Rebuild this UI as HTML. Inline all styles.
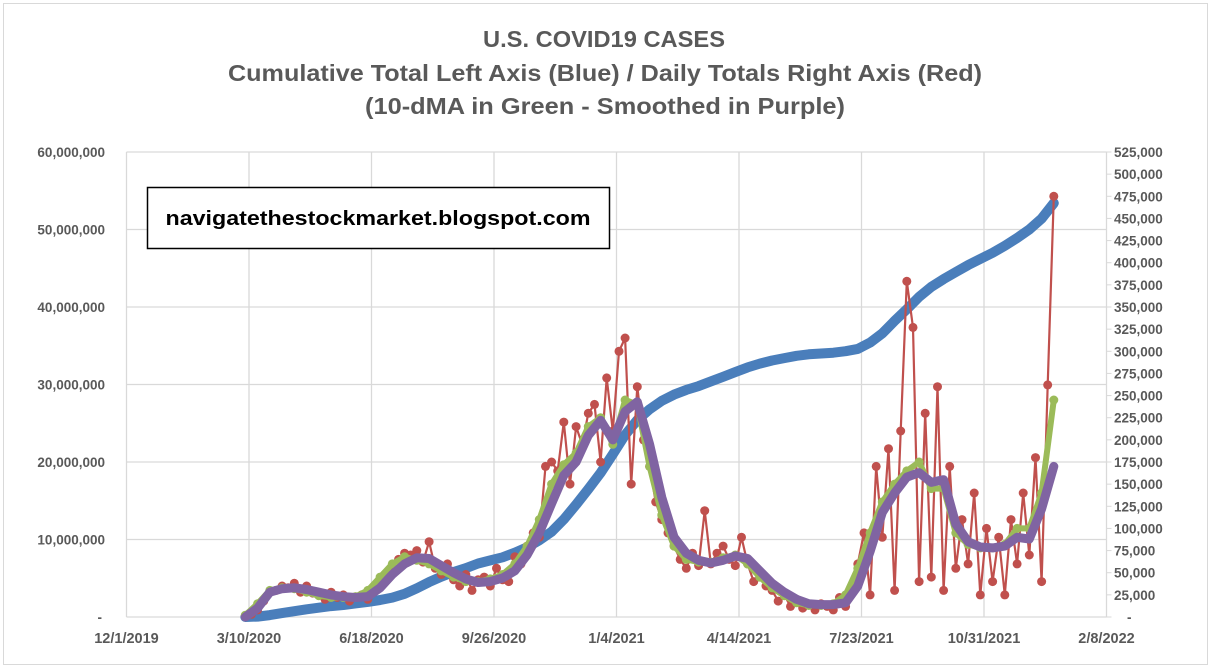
<!DOCTYPE html>
<html><head><meta charset="utf-8"><style>
html,body{margin:0;padding:0;background:#fff;}
svg{display:block;font-family:"Liberation Sans",sans-serif;}
</style></head><body>
<svg id="chart" width="1211" height="670" viewBox="0 0 1211 670" xmlns="http://www.w3.org/2000/svg">
<rect x="3.5" y="3.5" width="1204" height="661" fill="#fff" stroke="#d9d9d9"/>
<g fill="#595959" font-weight="bold" font-size="23" text-anchor="middle">
<text x="604" y="47" textLength="242" lengthAdjust="spacingAndGlyphs">U.S. COVID19 CASES</text>
<text x="605" y="81" textLength="754" lengthAdjust="spacingAndGlyphs">Cumulative Total Left Axis (Blue) / Daily Totals Right Axis (Red)</text>
<text x="605" y="114" textLength="480" lengthAdjust="spacingAndGlyphs">(10-dMA in Green - Smoothed in Purple)</text>
</g>
<g id="grid"></g>
<g id="axes"></g>
<g id="series"></g>
<g>
<rect x="147.5" y="187.5" width="462" height="61" fill="#fff" stroke="#000" stroke-width="1.5"/>
<text x="378" y="225" text-anchor="middle" font-size="20" font-weight="bold" fill="#000" textLength="425" lengthAdjust="spacingAndGlyphs">navigatethestockmarket.blogspot.com</text>
</g>
</svg>
<script>
// ---- data ----
const xTickDays = [0,100,200,300,400,500,600,700,800];
const xTickLabels = ["12/1/2019","3/10/2020","6/18/2020","9/26/2020","1/4/2021","4/14/2021","7/23/2021","10/31/2021","2/8/2022"];
const leftTicks = [0,10,20,30,40,50,60]; // millions
const leftTickLabels = ["-","10,000,000","20,000,000","30,000,000","40,000,000","50,000,000","60,000,000"];
const rightTicks = [0,25,50,75,100,125,150,175,200,225,250,275,300,325,350,375,400,425,450,475,500,525]; // thousands
// daily series: day index (days since 12/1/2019) start & step
const dailyStart = 97, dailyStep = 5;
const dailyCases = [ // thousands
1,3,8,18,28,30,35,33,38,28,
35,27,25,20,28,22,25,18,22,25,
20,30,38,45,55,65,72,70,75,62,
85,55,48,60,42,35,48,30,42,45,
35,55,42,40,68,60,80,95,90,170,
175,165,220,150,215,195,230,240,175,270,
210,300,315,150,260,200,170,130,110,95,
80,65,55,72,58,120,60,72,80,65,
58,90,60,40,45,35,30,18,25,12,
20,10,14,8,15,12,8,22,12,30,
60,95,25,170,90,190,30,210,379,327,
40,230,45,260,30,170,55,110,60,140,
25,100,40,90,25,110,60,140,70,180,
40,262,475];
const sampleStart = 97, sampleStep = 10;
const cumulative = [ // millions
0,0.05,0.25,0.5,0.75,1.0,1.2,1.4,1.55,1.75,
1.95,2.2,2.5,3.0,3.7,4.5,5.2,5.8,6.3,6.9,
7.3,7.7,8.3,9.0,9.9,11.0,12.6,14.5,16.5,18.6,
21.0,23.5,25.4,26.8,27.9,28.7,29.3,29.8,30.4,31.0,
31.6,32.2,32.7,33.1,33.4,33.7,33.9,34.0,34.1,34.3,
34.6,35.4,36.6,38.2,39.7,41.3,42.6,43.6,44.5,45.4,
46.2,47.0,47.9,48.9,50.0,51.4,53.4];
const movingAvg10 = [ // thousands
2,15,30,33,32,28,24,22,22,23,
30,45,60,68,64,60,52,45,40,40,
43,48,60,80,110,150,172,185,215,225,
195,245,240,170,115,80,65,62,62,67,
70,60,45,33,24,16,13,13,15,25,
55,95,130,150,165,175,145,145,95,82,
78,78,82,100,100,140,245];
const smoothed = [ // thousands
0,10,28,32,33,31,28,25,23,22,
23,33,48,60,67,66,58,50,43,39,
40,44,52,70,95,128,160,175,205,222,
200,232,243,195,135,90,72,64,61,64,
69,66,52,38,28,20,15,14,14,16,
35,74,118,140,158,163,152,155,105,85,
79,78,80,90,88,122,170];

// ---- scales ----
const X0=126.5, PX_DAY=1.225, Y0=617, TOP=152;
function xs(d){return X0+d*PX_DAY;}
function yL(m){return Y0-m*(Y0-TOP)/60;}
function yR(k){return Y0-k*(Y0-TOP)/525;}
const NS="http://www.w3.org/2000/svg";
function mk(tag,parent){const e=document.createElementNS(NS,tag);parent.appendChild(e);return e;}
const grid=document.getElementById('grid'), axes=document.getElementById('axes'), series=document.getElementById('series');
const XR=xs(800);

leftTicks.forEach((v,i)=>{
  const l=mk('line',grid);
  
  
  l.setAttribute('x1',X0);l.setAttribute('x2',XR);l.setAttribute('y1',yL(v));l.setAttribute('y2',yL(v));
  l.setAttribute('stroke','#d9d9d9');l.setAttribute('stroke-width','1.3');
  const t=mk('text',axes);
  
  
  t.setAttribute('x',i===0?102:105);t.setAttribute('y',yL(v)+5);t.setAttribute('text-anchor','end');
  t.setAttribute('font-size','13.5');t.setAttribute('font-weight','bold');t.setAttribute('fill','#595959');
  t.textContent=leftTickLabels[i];
});
xTickDays.forEach((d,i)=>{
  const l=mk('line',grid);
  
  
  l.setAttribute('x1',xs(d));l.setAttribute('x2',xs(d));l.setAttribute('y1',TOP);l.setAttribute('y2',Y0);
  l.setAttribute('stroke','#d9d9d9');l.setAttribute('stroke-width','1.3');
  const t=mk('text',axes);
  
  
  t.setAttribute('x',xs(d));t.setAttribute('y',643);t.setAttribute('text-anchor','middle');
  t.setAttribute('font-size','14.5');t.setAttribute('font-weight','bold');t.setAttribute('fill','#595959');
  t.textContent=xTickLabels[i];
});
rightTicks.forEach(v=>{
  const l=mk('line',axes);
  
  
  l.setAttribute('x1',XR);l.setAttribute('x2',XR+5);l.setAttribute('y1',yR(v));l.setAttribute('y2',yR(v));
  l.setAttribute('stroke','#d9d9d9');
  const t=mk('text',axes);
  
  
  t.setAttribute('x',v===0?1127:1114);t.setAttribute('y',yR(v)+5);
  t.setAttribute('font-size','13.5');t.setAttribute('font-weight','bold');t.setAttribute('fill','#595959');
  t.textContent=v===0?'-':(v+',000');
});
const ax=mk('line',axes);


ax.setAttribute('x1',XR);ax.setAttribute('x2',XR);ax.setAttribute('y1',TOP);ax.setAttribute('y2',Y0);ax.setAttribute('stroke','#d9d9d9');

function drawLine(vals,start,step,yf,color,w,name){
  const p=mk('polyline',series);
  
  
  p.setAttribute('points',vals.map((v,i)=>xs(start+i*step).toFixed(1)+','+yf(v).toFixed(1)).join(' '));
  p.setAttribute('fill','none');p.setAttribute('stroke',color);p.setAttribute('stroke-width',w);
  p.setAttribute('stroke-linejoin','round');p.setAttribute('stroke-linecap','round');
}
function drawDots(vals,start,step,yf,color,r,name){
  vals.forEach((v,i)=>{
    const c=mk('circle',series);
    
    
    c.setAttribute('cx',xs(start+i*step).toFixed(1));c.setAttribute('cy',yf(v).toFixed(1));
    c.setAttribute('r',r);c.setAttribute('fill',color);
  });
}
drawLine(cumulative,sampleStart,sampleStep,yL,'#4a7ebb',10,'cumulative-line');
drawLine(dailyCases,dailyStart,dailyStep,yR,'#c0504d',2.2,'daily-line');
drawDots(dailyCases,dailyStart,dailyStep,yR,'#c0504d',4.5,'daily-point');
drawLine(movingAvg10,sampleStart,sampleStep,yR,'#9bbb59',6,'ma10-line');
drawDots(movingAvg10,sampleStart,sampleStep,yR,'#9bbb59',4.5,'ma10-point');
drawLine(smoothed,sampleStart,sampleStep,yR,'#8064a2',9,'smoothed-line');
</script>
</body></html>
